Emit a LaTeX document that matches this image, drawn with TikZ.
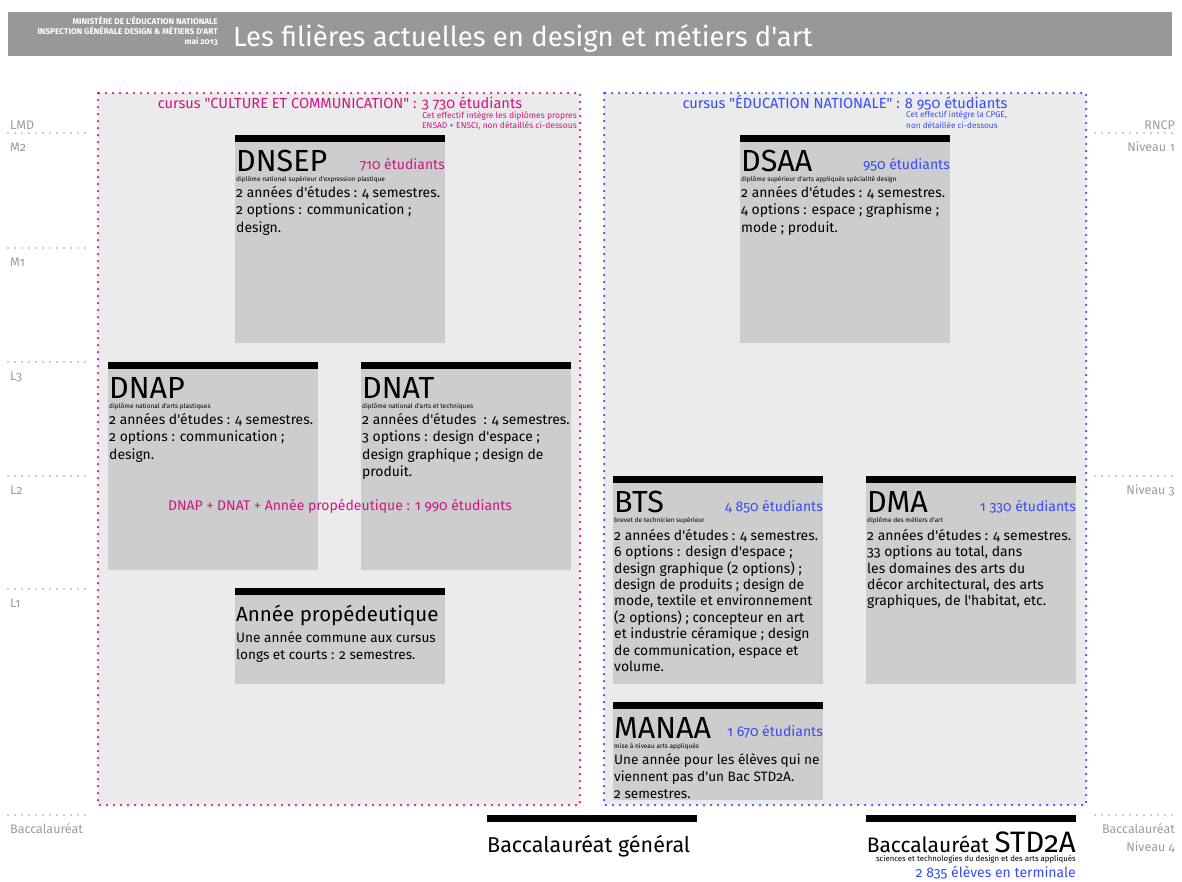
\documentclass[tikz,border=0pt]{standalone}
\usepackage{fontspec}
\setmainfont{Fira Sans}[Numbers=OldStyle, Ligatures=TeXOff]
\usetikzlibrary{positioning}
\definecolor{cursuspink}{RGB}{210,20,130}
\definecolor{cursusblue}{RGB}{55,75,250}
\definecolor{headgray}{RGB}{152,152,152}
\definecolor{panelgray}{RGB}{235,235,235}
\definecolor{boxgray}{RGB}{205,205,205}
\definecolor{scalegray}{RGB}{155,155,155}

\begin{document}
\begin{tikzpicture}[x=1pt,y=-1pt]
  \tikzset{PanelStyle/.style = {
    line width    = 2.5pt,
    dash pattern  = on 0pt off 7pt,
    line cap      = round,
    fill          = panelgray
    }
  }
  \tikzset{BoxStyle/.style = {
    shape         = rectangle,
    fill          = boxgray,
    anchor        = north west,
    minimum width = 210pt,
    inner sep     = 0pt,
    outer sep     = 0pt
    }
  }
  \tikzset{BarStyle/.style = {
    shape          = rectangle,
    fill           = black,
    anchor         = south west,
    minimum width  = 210pt,
    minimum height = 7pt,
    inner sep      = 0pt,
    outer sep      = 0pt
    }
  }
  \tikzset{TitleStyle/.style = {
    anchor = base west, inner sep = 0pt,
    font   = \fontsize{30.5}{30}\selectfont
    }
  }
  \tikzset{SubStyle/.style = {
    anchor = base west, inner sep = 0pt,
    font   = \fontsize{6.5}{7}\selectfont
    }
  }
  \tikzset{CountStyle/.style = {
    anchor = base east, inner sep = 0pt,
    font   = \fontsize{14}{14}\selectfont
    }
  }
  \tikzset{BodyStyle/.style = {
    anchor = north west, inner sep = 0pt, align = left,
    font   = \fontsize{13.9}{17.4}\selectfont
    }
  }
  \tikzset{ScaleStyle/.style = {
    inner sep = 0pt, text = scalegray,
    font      = \fontsize{12.5}{16}\selectfont
    }
  }
  \tikzset{ScaleDots/.style = {
    draw = scalegray, line width = 1.7pt,
    dash pattern = on 0pt off 7pt, line cap = round
    }
  }

  \useasboundingbox (0,0) rectangle (1182,881);

  % en-tete
  \node[fill=headgray, anchor=north west, minimum width=1164pt, minimum height=44pt,
        inner sep=0pt] (header) at (8,12) {};
  \node[anchor=east, align=right, inner sep=0pt, text=white,
        font=\fontsize{8.3}{10.4}\selectfont\bfseries] (ministere) at (218,31)
       {MINISTÈRE DE L'ÉDUCATION NATIONALE\\INSPECTION GÉNÉRALE DESIGN \& MÉTIERS D'ART\\mai 2013};
  \node[anchor=base west, inner sep=0pt, text=white,
        font=\fontsize{27.5}{27}\selectfont] (titre) at (233,46)
       {Les filières actuelles en design et métiers d'art};

  % les deux cursus
  \draw[PanelStyle, draw=cursuspink] (98,93) rectangle (580,805);
  \draw[PanelStyle, draw=cursusblue] (604,93) rectangle (1086,805);
  \node[anchor=base, inner sep=0pt, text=cursuspink, font=\fontsize{14.6}{14}\selectfont]
       (culture) at (340,108) {cursus "CULTURE ET COMMUNICATION" : 3 730 étudiants};
  \node[anchor=north east, align=right, inner sep=0pt, text=cursuspink,
        font=\fontsize{8.5}{10.5}\selectfont] (culturenote) at (577,111)
       {Cet effectif intègre les diplômes propres\\ENSAD + ENSCI, non détaillés ci-dessous};
  \node[anchor=base, inner sep=0pt, text=cursusblue, font=\fontsize{14.6}{14}\selectfont]
       (education) at (845,108) {cursus "ÉDUCATION NATIONALE" : 8 950 étudiants};
  \node[anchor=north west, align=left, inner sep=0pt, text=cursusblue,
        font=\fontsize{8.2}{10.5}\selectfont] (educationnote) at (906,111)
       {Cet effectif intègre la CPGE,\\non détaillée ci-dessous};

  % echelle LMD
  \node[ScaleStyle, anchor=base west] (lmd) at (10,129) {LMD};
  \foreach \y/\niv in {133/M2, 248/M1, 362/L3, 476/L2, 589/L1, 815/Baccalauréat}{
    \draw[ScaleDots] (8,\y) -- (88,\y);
    \node[ScaleStyle, anchor=base west] (lmd\niv) at (10,\y+18) {\niv};
  }
  % echelle RNCP
  \node[ScaleStyle, anchor=base east] (rncp) at (1175,129) {RNCP};
  \foreach \y/\niv in {133/Niveau 1, 476/Niveau 3, 815/Baccalauréat}{
    \draw[ScaleDots] (1095,\y) -- (1175,\y);
    \node[ScaleStyle, anchor=base east] at (1175,\y+18) {\niv};
  }
  \node[ScaleStyle, anchor=base east] (niveau4) at (1175,851) {Niveau 4};

  % DNSEP
  \node[BoxStyle, minimum height=201pt] (dnsep) at (235,142) {};
  \node[BarStyle] (dnsepbar) at (dnsep.north west) {};
  \node[TitleStyle] (dnseptitle) at (236,171) {DNSEP};
  \node[CountStyle, text=cursuspink] (dnsepcount) at (445,169) {710 étudiants};
  \node[SubStyle] (dnsepsub) at (236,181) {diplôme national supérieur d'expression plastique};
  \node[BodyStyle] (dnsepbody) at (236,186)
       {2 années d'études : 4 semestres.\\2 options : communication ;\\design.};

  % DSAA
  \node[BoxStyle, minimum height=201pt] (dsaa) at (740,142) {};
  \node[BarStyle] (dsaabar) at (dsaa.north west) {};
  \node[TitleStyle] (dsaatitle) at (741,171) {DSAA};
  \node[CountStyle, text=cursusblue] (dsaacount) at (950,169) {950 étudiants};
  \node[SubStyle] (dsaasub) at (741,181) {diplôme supérieur d'arts appliqués spécialité design};
  \node[BodyStyle] (dsaabody) at (741,186)
       {2 années d'études : 4 semestres.\\4 options : espace ; graphisme ;\\mode ; produit.};

  % DNAP
  \node[BoxStyle, minimum height=201pt] (dnap) at (108,369) {};
  \node[BarStyle] (dnapbar) at (dnap.north west) {};
  \node[TitleStyle] (dnaptitle) at (109,398) {DNAP};
  \node[SubStyle] (dnapsub) at (109,408) {diplôme national d'arts plastiques};
  \node[BodyStyle] (dnapbody) at (109,413)
       {2 années d'études : 4 semestres.\\2 options : communication ;\\design.};

  % DNAT
  \node[BoxStyle, minimum height=201pt] (dnat) at (361,369) {};
  \node[BarStyle] (dnatbar) at (dnat.north west) {};
  \node[TitleStyle] (dnattitle) at (362,398) {DNAT};
  \node[SubStyle] (dnatsub) at (362,408) {diplôme national d'arts et techniques};
  \node[BodyStyle] (dnatbody) at (362,413)
       {2 années d'études~ : 4 semestres.\\3 options : design d'espace ;\\design graphique ; design de\\produit.};

  \node[anchor=base, inner sep=0pt, text=cursuspink, font=\fontsize{14}{14}\selectfont]
       (dnapdnat) at (340,510) {DNAP + DNAT + Année propédeutique : 1 990 étudiants};

  % Annee propedeutique
  \node[BoxStyle, minimum height=89pt] (propedeutique) at (235,595) {};
  \node[BarStyle] (propedeutiquebar) at (propedeutique.north west) {};
  \node[TitleStyle, font=\fontsize{20.5}{21}\selectfont] (propedeutiquetitle) at (236,621)
       {Année propédeutique};
  \node[BodyStyle, font=\fontsize{13.6}{17.5}\selectfont] (propedeutiquebody) at (236,631)
       {Une année commune aux cursus\\longs et courts : 2 semestres.};

  % BTS
  \node[BoxStyle, minimum height=201pt] (bts) at (613,483) {};
  \node[BarStyle] (btsbar) at (bts.north west) {};
  \node[TitleStyle] (btstitle) at (614,512) {BTS};
  \node[CountStyle, text=cursusblue] (btscount) at (823,511) {4 850 étudiants};
  \node[SubStyle] (btssub) at (614,522) {brevet de technicien supérieur};
  \node[BodyStyle, font=\fontsize{13.9}{16.4}\selectfont] (btsbody) at (614,529)
       {2 années d'études : 4 semestres.\\6 options : design d'espace ;\\design graphique (2 options) ;\\design de produits ; design de\\mode, textile et environnement\\(2 options) ; concepteur en art\\et industrie céramique ; design\\de communication, espace et\\volume.};

  % DMA
  \node[BoxStyle, minimum height=201pt] (dma) at (866,483) {};
  \node[BarStyle] (dmabar) at (dma.north west) {};
  \node[TitleStyle] (dmatitle) at (867,512) {DMA};
  \node[CountStyle, text=cursusblue] (dmacount) at (1076,511) {1 330 étudiants};
  \node[SubStyle] (dmasub) at (867,522) {diplôme des métiers d'art};
  \node[BodyStyle, font=\fontsize{13.9}{16.4}\selectfont] (dmabody) at (867,529)
       {2 années d'études : 4 semestres.\\33 options au total, dans\\les domaines des arts du\\décor architectural, des arts\\graphiques, de l'habitat, etc.};

  % MANAA
  \node[BoxStyle, minimum height=91pt] (manaa) at (613,709) {};
  \node[BarStyle] (manaabar) at (manaa.north west) {};
  \node[TitleStyle] (manaatitle) at (614,738) {MANAA};
  \node[CountStyle, text=cursusblue] (manaacount) at (823,736) {1 670 étudiants};
  \node[SubStyle] (manaasub) at (614,748) {mise à niveau arts appliqués};
  \node[BodyStyle, font=\fontsize{13.6}{17}\selectfont] (manaabody) at (614,753)
       {Une année pour les élèves qui ne\\viennent pas d'un Bac STD2A.\\2 semestres.};

  % Baccalaureats
  \node[BarStyle, anchor=north west] (bacgeneralbar) at (487,815) {};
  \node[anchor=base west, inner sep=0pt, font=\fontsize{21.5}{21}\selectfont]
       (bacgeneral) at (487,852) {Baccalauréat général};
  \node[BarStyle, anchor=north west] (bacstdbar) at (866,815) {};
  \node[anchor=base east, inner sep=0pt, font=\fontsize{21}{21}\selectfont]
       (bacstd) at (1076,852) {Baccalauréat {\fontsize{29.5}{29}\selectfont STD2A}};
  \node[anchor=base east, inner sep=0pt, font=\fontsize{7.8}{7}\selectfont]
       (bacstdsub) at (1076,861) {sciences et technologies du design et des arts appliqués};
  \node[anchor=base east, inner sep=0pt, text=cursusblue, font=\fontsize{14}{14}\selectfont]
       (bacstdcount) at (1076,877) {2 835 élèves en terminale};

\end{tikzpicture}
\end{document}
